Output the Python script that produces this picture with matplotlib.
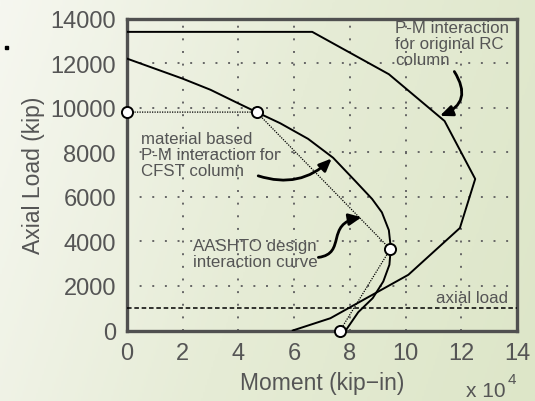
import matplotlib
matplotlib.use("Agg")
import matplotlib.pyplot as plt
import numpy as np
from matplotlib.colors import LinearSegmentedColormap
from matplotlib.patches import FancyArrowPatch
from matplotlib.path import Path

plt.rcParams["font.family"] = ["Liberation Sans", "DejaVu Sans"]

# moment in units of 1e4 kip-in, axial load in kip
rc_moment = [0, 6.65, 9.4, 11.4, 12.5, 11.95, 10.1, 7.3, 5.95]
rc_load = [13400, 13400, 11500, 9400, 6800, 4600, 2500, 550, 0]

cfst_moment = [0, 1.0, 2.0, 3.0, 3.9, 4.65, 5.5, 6.5, 7.4, 8.2, 8.8, 9.15,
               9.4, 9.47, 9.42, 9.2, 8.82, 8.3, 7.85]
cfst_load = [12200, 11750, 11300, 10800, 10250, 9800, 9300, 8600, 7750, 6700,
             5900, 5300, 4500, 3700, 2950, 2200, 1450, 820, 0]

aashto_moment = [0, 4.65, 9.45, 7.65]
aashto_load = [9800, 9800, 3650, 0]

axial_load = 1000

x_ticks = [0, 2, 4, 6, 8, 10, 12, 14]
y_ticks = [0, 2000, 4000, 6000, 8000, 10000, 12000, 14000]

TXT = "#555555"

fig = plt.figure(figsize=(5.35, 4.02), dpi=100)

# slide-like background gradient
bg = fig.add_axes([0, 0, 1, 1], zorder=-10)
cmap = LinearSegmentedColormap.from_list("bg", ["#f6f7f0", "#e6ecd6", "#dde6c8"])
gx, gy = np.meshgrid(np.linspace(0, 1, 256), np.linspace(0, 1, 256))
bg.imshow(0.8 * gx + 0.2 * gy, cmap=cmap, aspect="auto", extent=[0, 1, 0, 1],
          origin="upper")
bg.axis("off")
fig.patches.append(plt.Rectangle((0.009, 1 - 50 / 402), 3 / 535, 3 / 402,
                                 transform=fig.transFigure, color="black"))

ax = fig.add_axes([127 / 535, 1 - 331.5 / 402, 390 / 535, 312 / 402])
ax.set_facecolor("none")

# dotted grid
for gx_ in x_ticks[1:-1]:
    ax.axvline(gx_, color="#666666", lw=1.4, ls=(0, (1, 5.5)), zorder=1)
for gy_ in y_ticks[1:-1]:
    ax.axhline(gy_, color="#666666", lw=1.4, ls=(0, (1, 5.5)), zorder=1)

ax.plot(rc_moment, rc_load, color="black", lw=1.4, zorder=4)
ax.plot(cfst_moment, cfst_load, color="black", lw=1.4, zorder=4)
ax.plot(aashto_moment, aashto_load, color="black", lw=0.9, ls=(0, (1, 1)),
        zorder=3)
ax.plot(aashto_moment, aashto_load, ls="none", marker="o", ms=8,
        mfc="white", mec="black", mew=1.4, zorder=6, clip_on=False)
ax.axhline(axial_load, color="black", lw=1.1, ls=(0, (3, 1.8)), zorder=3)

ax.set_xlim(0, 14)
ax.set_ylim(0, 14000)
ax.set_xticks(x_ticks)
ax.set_yticks(y_ticks)
ax.tick_params(length=0, labelsize=17, labelcolor=TXT, pad=8)
for s in ax.spines.values():
    s.set_color("#505050")
    s.set_linewidth(2.4)
ax.set_xlabel("Moment (kip\u2212in)", fontsize=16.5, color=TXT, labelpad=5)
ax.set_ylabel("Axial Load (kip)", fontsize=16.5, color=TXT, labelpad=4)

fig.text(466 / 535, 5 / 402, "x 10", fontsize=15, color=TXT, va="baseline")
fig.text(508 / 535, 18 / 402, "4", fontsize=11, color=TXT, va="baseline")

ARROW = "-|>,head_length=0.75,head_width=0.32"

# labels and arrows
ax.text(9.62, 13950, "P-M interaction\nfor original RC\ncolumn", fontsize=12.2,
        color=TXT, va="top", ha="left", linespacing=1.1, zorder=2)
ax.annotate("", xy=(11.23, 9630), xytext=(11.75, 11620),
            arrowprops=dict(arrowstyle=ARROW, color="black", lw=2,
                            connectionstyle="arc3,rad=-0.6",
                            shrinkA=0, shrinkB=0), zorder=7)

ax.text(0.5, 8950, "material based\nP-M interaction for\nCFST column",
        fontsize=12.2, color=TXT, va="top", ha="left", linespacing=1.1,
        zorder=2)
ax.annotate("", xy=(7.35, 7720), xytext=(4.71, 6940),
            arrowprops=dict(arrowstyle=ARROW, color="black", lw=2,
                            connectionstyle="arc3,rad=0.3",
                            shrinkA=0, shrinkB=0), zorder=7)

ax.text(2.38, 4150, "AASHTO design\ninteraction curve", fontsize=12.2,
        color=TXT, va="top", ha="left", linespacing=1.1, zorder=2)
s_path = Path([(6.87, 3280), (7.9, 3450), (7.1, 4800), (8.42, 5080)],
              [Path.MOVETO, Path.CURVE4, Path.CURVE4, Path.CURVE4])
ax.add_patch(FancyArrowPatch(path=s_path,
                             arrowstyle="-|>,head_length=7.5,head_width=3.5",
                             color="black", lw=2, zorder=7))

ax.text(13.68, 1150, "axial load", fontsize=12.2, color=TXT, ha="right",
        va="bottom", zorder=2)

fig.savefig("out.png", dpi=100)
